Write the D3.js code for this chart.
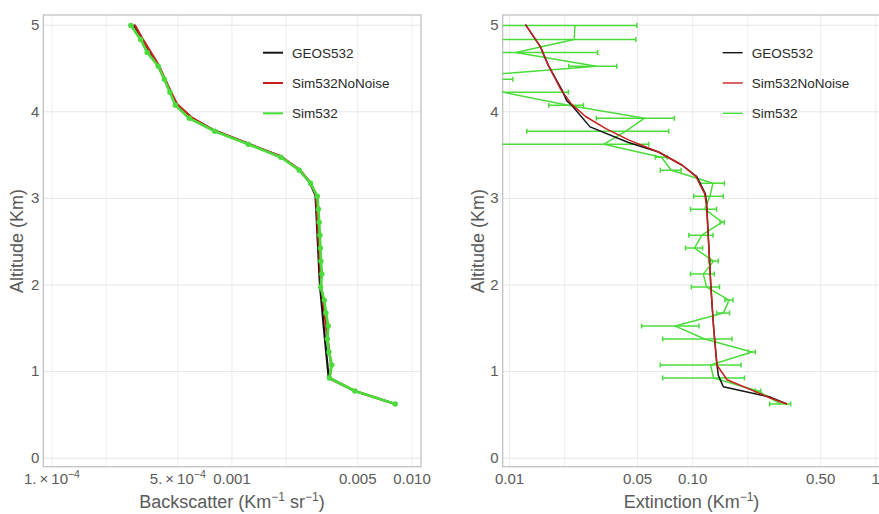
<!DOCTYPE html>
<html>
<head>
<meta charset="utf-8">
<script src="https://cdn.jsdelivr.net/npm/d3@7"></script>
<style>
  body { margin: 0; background: #fff; }
  text { font-family: "Liberation Sans", Arial, Helvetica, sans-serif; }
</style>
</head>
<body>
<svg id="chart" width="879" height="514"></svg>
<script>
// ---- Data --------------------------------------------------------------
// Retrieval levels of the simulated profile (km)
const simAlt = [0.62, 0.77, 0.92, 1.07, 1.22, 1.37, 1.52, 1.67, 1.82, 1.97,
                2.12, 2.27, 2.42, 2.57, 2.72, 2.87, 3.02, 3.17, 3.32, 3.47,
                3.62, 3.77, 3.92, 4.07, 4.22, 4.37, 4.52, 4.68, 4.83, 4.99];

// Sim532 backscatter (km^-1 sr^-1) at simAlt
const sim532Back = [8.13e-3, 4.85e-3, 3.50e-3, 3.61e-3, 3.48e-3, 3.41e-3, 3.45e-3, 3.35e-3, 3.28e-3, 3.13e-3,
                    3.18e-3, 3.14e-3, 3.12e-3, 3.10e-3, 3.07e-3, 3.04e-3, 3.00e-3, 2.75e-3, 2.38e-3, 1.88e-3,
                    1.24e-3, 8.07e-4, 5.83e-4, 4.88e-4, 4.55e-4, 4.24e-4, 3.92e-4, 3.40e-4, 3.13e-4, 2.76e-4];

// Sim532 extinction (km^-1) and its error at simAlt
const sim532Ext = [0.305, 0.229, 0.131, 0.126, 0.212, 0.117, 0.081, 0.148, 0.159, 0.120,
                   0.115, 0.131, 0.103, 0.113, 0.146, 0.117, 0.125, 0.130, 0.077, 0.068,
                   0.033, 0.0435, 0.055, 0.021, 0.0093, 0.0037, 0.030, 0.0109, 0.0227, 0.0229];
const sim532ExtErr = [0.040, 0.008, 0.062, 0.059, 0.009, 0.048, 0.028, 0.012, 0.008, 0.021,
                      0.017, 0.008, 0.011, 0.017, 0.004, 0.019, 0.023, 0.020, 0.010, 0.005,
                      0.025, 0.031, 0.025, 0.0045, 0.0118, 0.0068, 0.0088, 0.0196, 0.0266, 0.027];

// GEOS532 model profile, backscatter
const geosBackAlt = [0.62, 0.77, 0.92, 1.50, 2.00, 3.03, 3.18, 3.33, 3.48, 3.63, 3.78, 3.93, 4.08, 4.23, 4.53, 5.00];
const geosBack = [8.13e-3, 4.85e-3, 3.47e-3, 3.26e-3, 3.10e-3, 2.93e-3, 2.72e-3, 2.37e-3, 1.87e-3, 1.22e-3,
                  8.0e-4, 5.95e-4, 4.95e-4, 4.55e-4, 3.90e-4, 2.86e-4];

// Sim532NoNoise profile, backscatter
const noNoiseBackAlt = [0.62, 0.77, 0.92, 1.07, 1.50, 2.00, 3.03, 3.18, 3.33, 3.48, 3.63, 3.78, 3.93, 4.08, 4.23, 4.53, 4.83, 5.00];
const noNoiseBack = [8.13e-3, 4.85e-3, 3.52e-3, 3.58e-3, 3.36e-3, 3.15e-3, 2.95e-3, 2.74e-3, 2.38e-3, 1.88e-3,
                     1.23e-3, 8.0e-4, 6.0e-4, 5.0e-4, 4.6e-4, 3.95e-4, 3.22e-4, 2.90e-4];

// GEOS532 model profile, extinction
const geosExtAlt = [0.62, 0.70, 0.82, 0.95, 1.08, 1.50, 1.97, 2.94, 3.05, 3.245, 3.38, 3.53, 3.64, 3.82, 4.07, 4.12, 4.25, 4.53, 4.75, 5.00];
const geosExt = [0.329, 0.267, 0.148, 0.139, 0.1365, 0.131, 0.1266, 0.120, 0.118, 0.106,
                 0.0879, 0.0655, 0.0449, 0.0277, 0.0220, 0.0207, 0.0194, 0.0164, 0.0148, 0.0123];

// Sim532NoNoise profile, extinction
const noNoiseExtAlt = [0.62, 0.69, 0.90, 1.07, 1.50, 1.97, 2.90, 3.05, 3.245, 3.38, 3.53, 3.67, 3.80, 3.94, 4.08, 4.25, 4.53, 4.75, 5.00];
const noNoiseExt = [0.329, 0.267, 0.155, 0.1365, 0.131, 0.1266, 0.120, 0.117, 0.105, 0.0879,
                    0.0655, 0.0449, 0.0338, 0.0262, 0.0220, 0.0192, 0.0164, 0.0148, 0.0123];

// Axis ticks
const altTicks = [0, 1, 2, 3, 4, 5];
const backTickVals = [1e-4, 5e-4, 0.001, 0.005, 0.01];
const backTickLabels = ["1.\u2009\u00d7\u200910^\u22124", "5.\u2009\u00d7\u200910^\u22124", "0.001", "0.005", "0.010"];
const backGridVals = [1e-4, 2e-4, 5e-4, 1e-3, 2e-3, 5e-3, 1e-2];
const extTickVals = [0.01, 0.05, 0.1, 0.5, 1];
const extTickLabels = ["0.01", "0.05", "0.10", "0.50", "1"];
const extGridVals = [0.01, 0.02, 0.05, 0.1, 0.2, 0.5, 1];

const legendNames = ["GEOS532", "Sim532NoNoise", "Sim532"];
const colors = { geos: "#141414", noNoise: "#c8201e", sim: "#4bdc3c" };
const legendColors = [colors.geos, colors.noNoise, colors.sim];

// ---- Layout ------------------------------------------------------------
const svg = d3.select("#chart");
const plotTop = 15, plotBottom = 466.7;
const altDomain = [-0.104, 5.112];

function makeY() {
  return d3.scaleLinear().domain(altDomain).range([plotBottom, plotTop]);
}

// writes "a^b" as text with superscript b
function richText(sel, str, supSize, supShift) {
  const parts = str.split("^");
  sel.text(null);
  sel.append("tspan").text(parts[0]);
  if (parts.length > 1) {
    sel.append("tspan").attr("dy", -supShift).attr("font-size", supSize).text(parts[1]);
  }
}

function drawPanel(p) {
  const g = svg.append("g");
  const x = d3.scaleLog().domain(p.xDomain).range([p.left, p.right]);
  const y = makeY();
  const h = plotBottom - plotTop;

  const clipId = "clip-" + p.id;
  svg.append("clipPath").attr("id", clipId)
    .append("rect").attr("x", p.left).attr("y", plotTop)
    .attr("width", p.right - p.left).attr("height", h);

  // grid
  g.append("g").attr("transform", `translate(0,${plotBottom})`)
    .call(d3.axisBottom(x).tickValues(p.gridVals).tickSize(-h).tickFormat(""))
    .call(s => s.select(".domain").remove())
    .call(s => s.selectAll("line").attr("stroke", "#ededed").attr("stroke-width", 1));
  g.append("g").attr("transform", `translate(${p.left},0)`)
    .call(d3.axisLeft(y).tickValues(altTicks).tickSize(-(p.right - p.left)).tickFormat(""))
    .call(s => s.select(".domain").remove())
    .call(s => s.selectAll("line").attr("stroke", "#e6e6e6").attr("stroke-width", 1));

  // frame
  g.append("rect").attr("x", p.left).attr("y", plotTop)
    .attr("width", p.right - p.left).attr("height", h)
    .attr("fill", "none").attr("stroke", "#bdbdbd").attr("stroke-width", 1.2);

  // tick labels
  const xa = g.append("g").attr("transform", `translate(0,${plotBottom})`)
    .call(d3.axisBottom(x).tickValues(p.tickVals).tickSize(0).tickPadding(7)
      .tickFormat((d, i) => p.tickLabels[i]));
  xa.select(".domain").remove();
  xa.attr("font-family", null);
  xa.selectAll("text").attr("font-size", 15).attr("fill", "#5a5a5a")
    .each(function (d, i) { richText(d3.select(this), p.tickLabels[i], 10.5, 6); });

  const ya = g.append("g").attr("transform", `translate(${p.left},0)`)
    .call(d3.axisLeft(y).tickValues(altTicks).tickSize(0).tickPadding(4).tickFormat(d3.format("d")));
  ya.select(".domain").remove();
  ya.attr("font-family", null);
  ya.selectAll("text").attr("font-size", 15).attr("fill", "#5a5a5a");

  // axis titles
  const xt = g.append("text").attr("x", p.titleX).attr("y", 508)
    .attr("text-anchor", "middle").attr("font-size", 18).attr("fill", "#5a5a5a");
  p.xTitle.forEach(seg => {
    const t = xt.append("tspan").text(seg.t);
    if (seg.sup) t.attr("font-size", 12).attr("dy", -7);
    if (seg.after) t.attr("dy", 7);
  });
  g.append("text").attr("transform", `translate(${p.yTitleX},241) rotate(-90)`)
    .attr("text-anchor", "middle").attr("font-size", 18).attr("fill", "#5a5a5a")
    .text("Altitude (Km)");

  const plot = g.append("g").attr("clip-path", `url(#${clipId})`);
  p.drawSeries(plot, x, y);

  // legend
  const lg = g.append("g");
  legendNames.forEach((name, i) => {
    const ly = 52.7 + i * 30.3;
    lg.append("line").attr("x1", p.legendX).attr("x2", p.legendX + 20)
      .attr("y1", ly).attr("y2", ly)
      .attr("stroke", legendColors[i]).attr("stroke-width", p.legendStroke);
    lg.append("text").attr("x", p.legendX + 29).attr("y", ly + 5)
      .attr("font-size", 13.5).attr("fill", "#2a2a2a").text(name);
  });
}

function pairs(alts, vals) { return alts.map((a, i) => ({ a: a, v: vals[i] })); }

// ---- Backscatter panel ----
drawPanel({
  id: "back",
  left: 43.3, right: 421,
  xDomain: [9.006e-5, 0.01130],
  gridVals: backGridVals, tickVals: backTickVals, tickLabels: backTickLabels,
  titleX: 232, yTitleX: 23,
  xTitle: [{ t: "Backscatter (Km" }, { t: "\u22121", sup: true }, { t: " sr", after: true },
           { t: "\u22121", sup: true }, { t: ")", after: true }],
  legendX: 263, legendStroke: 2,
  drawSeries: (plot, x, y) => {
    const line = d3.line().x(d => x(d.v)).y(d => y(d.a));
    plot.append("path").datum(pairs(geosBackAlt, geosBack)).attr("d", line)
      .attr("fill", "none").attr("stroke", colors.geos).attr("stroke-width", 2.2)
      .attr("stroke-linejoin", "round");
    plot.append("path").datum(pairs(noNoiseBackAlt, noNoiseBack)).attr("d", line)
      .attr("fill", "none").attr("stroke", colors.noNoise).attr("stroke-width", 2.2)
      .attr("stroke-linejoin", "round");
    const sim = pairs(simAlt, sim532Back);
    plot.append("path").datum(sim).attr("d", line)
      .attr("fill", "none").attr("stroke", colors.sim).attr("stroke-width", 2.7)
      .attr("stroke-linejoin", "round");
    plot.selectAll("circle.pt").data(sim).enter().append("circle")
      .attr("cx", d => x(d.v)).attr("cy", d => y(d.a)).attr("r", 2.7)
      .attr("fill", colors.sim);
  }
});

// ---- Extinction panel ----
drawPanel({
  id: "ext",
  left: 502.7, right: 880,
  xDomain: [0.009239, 1.061],
  gridVals: extGridVals, tickVals: extTickVals, tickLabels: extTickLabels,
  titleX: 691.5, yTitleX: 484,
  xTitle: [{ t: "Extinction (Km" }, { t: "\u22121", sup: true }, { t: ")", after: true }],
  legendX: 722.7, legendStroke: 1.4,
  drawSeries: (plot, x, y) => {
    const line = d3.line().x(d => x(d.v)).y(d => y(d.a));
    const xMin = x.range()[0];
    const sim = simAlt.map((a, i) => ({ a: a, v: sim532Ext[i], e: sim532ExtErr[i] }));
    // error bars
    const eb = plot.append("g").attr("stroke", colors.sim).attr("stroke-width", 1.5);
    sim.forEach(d => {
      const lo = d.v - d.e, hi = d.v + d.e;
      const x0 = lo > 0 ? x(lo) : xMin - 10;
      const x1 = x(hi), yy = y(d.a);
      eb.append("line").attr("x1", x0).attr("x2", x1).attr("y1", yy).attr("y2", yy);
      if (lo > 0) eb.append("line").attr("x1", x0).attr("x2", x0).attr("y1", yy - 2.5).attr("y2", yy + 2.5);
      eb.append("line").attr("x1", x1).attr("x2", x1).attr("y1", yy - 2.5).attr("y2", yy + 2.5);
    });
    plot.append("path").datum(sim).attr("d", line)
      .attr("fill", "none").attr("stroke", colors.sim).attr("stroke-width", 1.5)
      .attr("stroke-linejoin", "round");
    plot.append("path").datum(pairs(geosExtAlt, geosExt)).attr("d", line)
      .attr("fill", "none").attr("stroke", colors.geos).attr("stroke-width", 1.5)
      .attr("stroke-linejoin", "round");
    plot.append("path").datum(pairs(noNoiseExtAlt, noNoiseExt)).attr("d", line)
      .attr("fill", "none").attr("stroke", colors.noNoise).attr("stroke-width", 1.5)
      .attr("stroke-linejoin", "round");
  }
});
</script>
</body>
</html>
